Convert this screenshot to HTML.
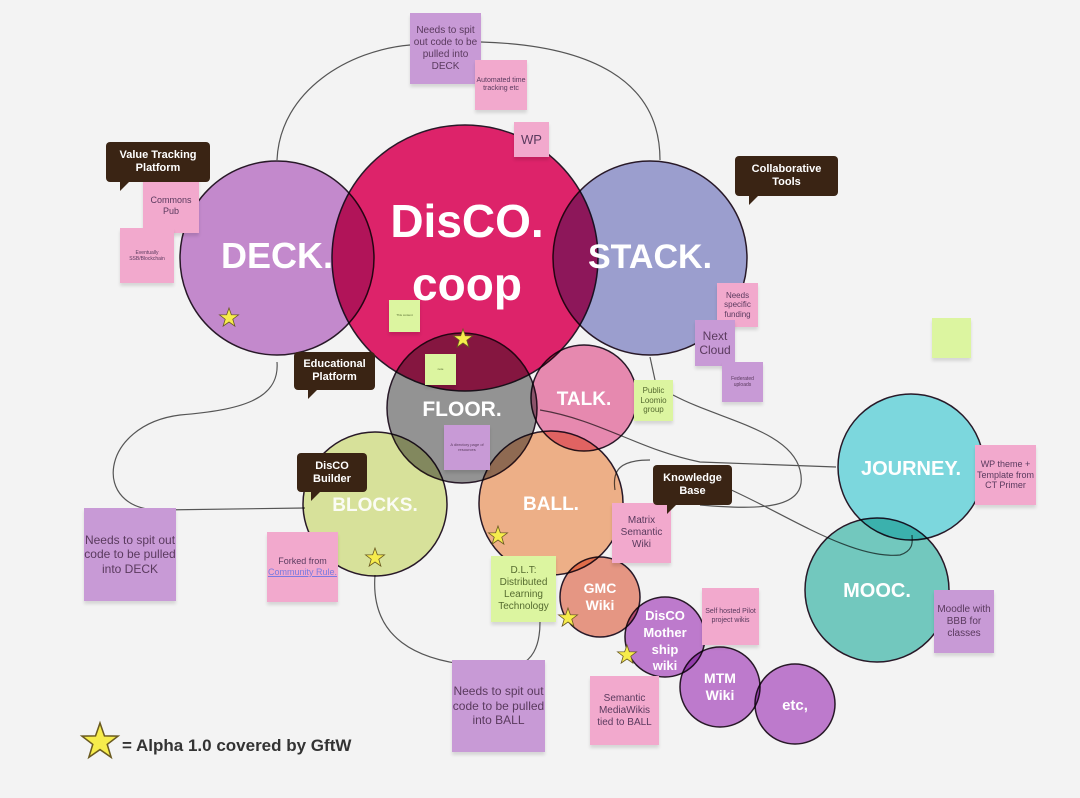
<!DOCTYPE html>
<html><head><meta charset="utf-8"><style>
body{margin:0;width:1080px;height:798px;background:#f3f3f3;overflow:hidden;position:relative;font-family:"Liberation Sans",sans-serif}
svg{position:absolute;left:0;top:0}
.n{position:absolute;display:flex;align-items:center;justify-content:center;text-align:center;color:#5a3a5e;box-shadow:0 3px 3px rgba(0,0,0,.12);line-height:1.2}
.p{background:#c89ad6}.k{background:#f2a9cd}.g{background:#dcf5a0;color:#556b2f}
.c{position:absolute;background:#3a2414;color:#fff;font-weight:bold;font-size:11px;text-align:center;border-radius:4px;display:flex;align-items:center;justify-content:center;line-height:1.15}
.c:after{content:"";position:absolute;left:14px;bottom:-9px;border-left:0 solid transparent;border-right:10px solid transparent;border-top:10px solid #3a2414}
.m circle{mix-blend-mode:multiply}
</style></head><body>
<svg width="1080" height="798">
<defs>
<polygon id="st" points="0,-10 2.35,-3.24 9.51,-3.09 3.8,1.24 5.88,8.09 0,4 -5.88,8.09 -3.8,1.24 -9.51,-3.09 -2.35,-3.24" fill="#f6ec4c" stroke="#6a5a20" stroke-width="0.8"/>
</defs>
<g fill="none" stroke="#555" stroke-width="1.2">
<path d="M277 160 C280 90,350 50,410 45"/>
<path d="M481 42 C590 45,660 80,660 160"/>
<path d="M277 362 C280 400,240 410,180 415 C100 425,90 510,160 510 L305 508"/>
<path d="M375 575 C370 640,420 660,470 665"/>
<path d="M540 622 C540 650,530 660,520 665"/>
<path d="M650 357 L655 380"/>
<path d="M673 395 C720 420,790 430,800 470 C810 510,760 510,700 505"/>
<path d="M540 410 C600 420,640 450,700 462 L836 467"/>
<path d="M615 490 C612 470,620 460,650 460"/>
<path d="M720 485 C780 510,850 560,900 555 C915 550,912 540,912 535"/>
</g>
<g class="m" stroke="#2a1a2a" stroke-width="1.5">
<circle cx="277" cy="258" r="97" fill="#cd90d6"/>
<circle cx="650" cy="258" r="97" fill="#a3a6d8"/>
<circle cx="465" cy="258" r="133" fill="#e8246f"/>
<circle cx="462" cy="408" r="75" fill="#9a9a9a"/>
<circle cx="584" cy="398" r="53" fill="#f290b8"/>
<circle cx="375" cy="504" r="72" fill="#e2eca2"/>
<circle cx="551" cy="503" r="72" fill="#f9b88e"/>
<circle cx="911" cy="467" r="73" fill="#82e2e8"/>
<circle cx="877" cy="590" r="72" fill="#78d2c8"/>
<circle cx="600" cy="597" r="40" fill="#f19e8a"/>
<circle cx="665" cy="637" r="40" fill="#c780d6"/>
<circle cx="720" cy="687" r="40" fill="#c780d6"/>
<circle cx="795" cy="704" r="40" fill="#c780d6"/>
</g>
<g fill="#fff" font-family="Liberation Sans,sans-serif" font-weight="bold" text-anchor="middle">
<text x="277" y="268" font-size="36">DECK.</text>
<text x="650" y="268" font-size="34">STACK.</text>
<text x="467" y="237" font-size="46">DisCO.</text>
<text x="467" y="300" font-size="46">coop</text>
<text x="462" y="416" font-size="21">FLOOR.</text>
<text x="584" y="405" font-size="19">TALK.</text>
<text x="375" y="511" font-size="19" opacity=".9">BLOCKS.</text>
<text x="551" y="510" font-size="19">BALL.</text>
<text x="911" y="475" font-size="20">JOURNEY.</text>
<text x="877" y="597" font-size="20">MOOC.</text>
<text x="600" y="593" font-size="14">GMC</text><text x="600" y="610" font-size="14">Wiki</text>
<text x="665" y="620" font-size="13">DisCO</text><text x="665" y="637" font-size="13">Mother</text><text x="665" y="654" font-size="13">ship</text><text x="665" y="670" font-size="13">wiki</text>
<text x="720" y="683" font-size="14">MTM</text><text x="720" y="700" font-size="14">Wiki</text>
<text x="795" y="710" font-size="15">etc,</text>
</g>
<use href="#st" x="229" y="318"/><use href="#st" x="463" y="339"/><use href="#st" x="375" y="558"/><use href="#st" x="498" y="536"/><use href="#st" x="568" y="618"/><use href="#st" x="627" y="655"/>
<use href="#st" transform="translate(100 742) scale(1.9)"/>
<text x="122" y="751" font-size="17" font-weight="bold" fill="#333" font-family="Liberation Sans,sans-serif">= Alpha 1.0 covered by GftW</text>
</svg>
<div class="n p" style="left:410px;top:13px;width:71px;height:71px;font-size:10px">Needs to spit out code to be pulled into DECK</div>
<div class="n k" style="left:475px;top:60px;width:52px;height:50px;font-size:7px">Automated time tracking etc</div>
<div class="n k" style="left:514px;top:122px;width:35px;height:35px;font-size:13px">WP</div>
<div class="n k" style="left:143px;top:178px;width:56px;height:55px;font-size:9px">Commons Pub</div>
<div class="n k" style="left:120px;top:228px;width:54px;height:55px;font-size:5px">Eventually SSB/Blockchain</div>
<div class="n g" style="left:389px;top:300px;width:31px;height:32px;font-size:3px">This content</div>
<div class="n g" style="left:425px;top:354px;width:31px;height:31px;font-size:3px">note</div>
<div class="n p" style="left:444px;top:425px;width:46px;height:45px;font-size:4px">A directory page of resources</div>
<div class="n k" style="left:717px;top:283px;width:41px;height:44px;font-size:8px">Needs specific funding</div>
<div class="n p" style="left:695px;top:320px;width:40px;height:46px;font-size:12px">Next Cloud</div>
<div class="n p" style="left:722px;top:362px;width:41px;height:40px;font-size:5px">Federated uploads</div>
<div class="n g" style="left:634px;top:380px;width:39px;height:41px;font-size:8px">Public Loomio group</div>
<div class="n g" style="left:932px;top:318px;width:39px;height:40px"></div>
<div class="n k" style="left:975px;top:445px;width:61px;height:60px;font-size:9px">WP theme + Template from CT Primer</div>
<div class="n p" style="left:84px;top:508px;width:92px;height:93px;font-size:12px">Needs to spit out code to be pulled into DECK</div>
<div class="n k" style="left:267px;top:532px;width:71px;height:70px;font-size:9px"><span>Forked from <u style="color:#7a7ae0">Community Rule.</u></span></div>
<div class="n k" style="left:612px;top:503px;width:59px;height:60px;font-size:10px">Matrix Semantic Wiki</div>
<div class="n g" style="left:491px;top:556px;width:65px;height:66px;font-size:10px">D.L.T: Distributed Learning Technology</div>
<div class="n k" style="left:702px;top:588px;width:57px;height:57px;font-size:7px">Self hosted Pilot project wikis</div>
<div class="n k" style="left:590px;top:676px;width:69px;height:69px;font-size:10px">Semantic MediaWikis tied to BALL</div>
<div class="n p" style="left:452px;top:660px;width:93px;height:92px;font-size:12px">Needs to spit out code to be pulled into BALL</div>
<div class="n p" style="left:934px;top:590px;width:60px;height:63px;font-size:10px">Moodle with BBB for classes</div>
<div class="c" style="left:106px;top:142px;width:104px;height:40px">Value Tracking<br>Platform</div>
<div class="c" style="left:294px;top:352px;width:81px;height:38px">Educational<br>Platform</div>
<div class="c" style="left:735px;top:156px;width:103px;height:40px">Collaborative<br>Tools</div>
<div class="c" style="left:297px;top:453px;width:70px;height:39px">DisCO<br>Builder</div>
<div class="c" style="left:653px;top:465px;width:79px;height:40px">Knowledge<br>Base</div>
</body></html>
